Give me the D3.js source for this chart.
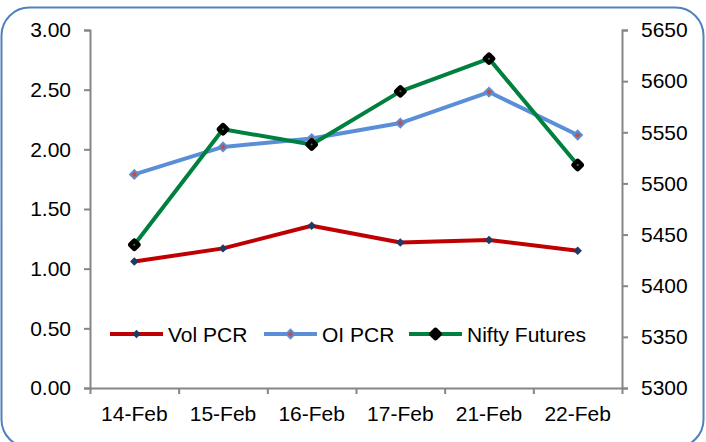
<!DOCTYPE html>
<html>
<head>
<meta charset="utf-8">
<script src="https://cdn.jsdelivr.net/npm/d3@7"></script>
<style>
  body { margin: 0; background: #fff; }
  svg { display: block; font-family: "Liberation Sans", Arial, sans-serif; }
  .axis path, .axis line { stroke: #868686; stroke-width: 2; }
  .axis text { font-size: 21px; fill: #000; }
</style>
</head>
<body>
<div id="vis"></div>
<script>
const FRAME_WIDTH = 706;
const FRAME_HEIGHT = 442;
const MARGINS = {left: 90, right: 84, top: 30, bottom: 54};
const VIS_WIDTH = FRAME_WIDTH - MARGINS.left - MARGINS.right;
const VIS_HEIGHT = FRAME_HEIGHT - MARGINS.top - MARGINS.bottom;

// data
const dates = ["14-Feb", "15-Feb", "16-Feb", "17-Feb", "21-Feb", "22-Feb"];
const volPcr = [1.06, 1.17, 1.36, 1.22, 1.24, 1.15];
const oiPcr = [1.79, 2.02, 2.09, 2.22, 2.48, 2.12];
const niftyFut = [5440, 5553, 5538, 5590, 5622, 5518];
const leftTicks = [0, 0.5, 1, 1.5, 2, 2.5, 3];
const rightTicks = [5300, 5350, 5400, 5450, 5500, 5550, 5600, 5650];

const FRAME = d3.select("#vis")
  .append("svg")
    .attr("width", FRAME_WIDTH)
    .attr("height", FRAME_HEIGHT);

// rounded chart border
FRAME.append("rect")
  .attr("x", 1.5).attr("y", 7.5)
  .attr("width", 702).attr("height", 440)
  .attr("rx", 28).attr("ry", 28)
  .attr("fill", "none")
  .attr("stroke", "#4F81BD")
  .attr("stroke-width", 2);

const G = FRAME.append("g")
  .attr("transform", "translate(" + MARGINS.left + "," + MARGINS.top + ")");

const X_SCALE = d3.scaleBand().domain(dates).range([0, VIS_WIDTH]);
const X_EDGES = d3.scaleLinear().domain([0, dates.length]).range([0, VIS_WIDTH]);
const Y_LEFT = d3.scaleLinear().domain([0, 3]).range([VIS_HEIGHT, 0]);
const Y_RIGHT = d3.scaleLinear().domain([5300, 5650]).range([VIS_HEIGHT, 0]);
const xc = (i) => X_SCALE(dates[i]) + X_SCALE.bandwidth() / 2;

// axes
G.append("g").attr("class", "axis")
  .call(d3.axisLeft(Y_LEFT).tickValues(leftTicks).tickSize(6).tickPadding(13)
    .tickFormat(d3.format(".2f")));

G.append("g").attr("class", "axis")
  .attr("transform", "translate(" + VIS_WIDTH + ",0)")
  .call(d3.axisRight(Y_RIGHT).tickValues(rightTicks).tickSize(6).tickPadding(13)
    .tickFormat(d3.format("d")));

G.append("g").attr("class", "axis")
  .attr("transform", "translate(0," + VIS_HEIGHT + ")")
  .call(d3.axisBottom(X_EDGES).tickValues(d3.range(dates.length + 1))
    .tickSize(6).tickSizeOuter(0).tickFormat(""));

G.append("g").attr("class", "axis")
  .attr("transform", "translate(0," + VIS_HEIGHT + ")")
  .call(d3.axisBottom(X_SCALE).tickSize(0).tickPadding(18))
  .call(g => g.select(".domain").remove());

// series
const series = [
  {name: "Vol PCR", values: volPcr, y: Y_LEFT, color: "#C00000",
   mSize: 5, mFill: "#1F3B64", mStroke: "#1F3B64", mStrokeW: 1},
  {name: "OI PCR", values: oiPcr, y: Y_LEFT, color: "#5A8FD8",
   mSize: 6, mFill: "#C0504D", mStroke: "#5A8FD8", mStrokeW: 2},
  {name: "Nifty Futures", values: niftyFut, y: Y_RIGHT, color: "#00803E",
   mSize: 8, mFill: "#000", mStroke: "#000", mStrokeW: 2.5}
];

const line = (s) => d3.line()
  .x((d, i) => xc(i))
  .y((d) => s.y(d));

const marker = (sel, s) => sel
  .attr("width", s.mSize).attr("height", s.mSize)
  .attr("x", -s.mSize / 2).attr("y", -s.mSize / 2)
  .attr("rx", s.name === "Nifty Futures" ? 1.5 : 0)
  .attr("fill", s.mFill)
  .attr("stroke", s.mStroke)
  .attr("stroke-width", s.mStrokeW);

series.forEach((s) => {
  G.append("path")
    .datum(s.values)
    .attr("d", line(s))
    .attr("fill", "none")
    .attr("stroke", s.color)
    .attr("stroke-width", 4)
    .attr("stroke-linejoin", "round");

  G.selectAll(".m-" + s.name.replace(/ /g, ""))
    .data(s.values)
    .enter()
    .append("rect")
      .attr("transform", (d, i) => "translate(" + xc(i) + "," + s.y(d) + ") rotate(45)")
      .call(marker, s);

  if (s.name === "Nifty Futures") {
    G.selectAll(".dot")
      .data(s.values)
      .enter()
      .append("circle")
        .attr("cx", (d, i) => xc(i))
        .attr("cy", (d) => s.y(d))
        .attr("r", 1)
        .attr("fill", "#3C8C3C");
  }
});

// legend
const legendX = [110, 264, 409];
const LEG = FRAME.append("g").attr("transform", "translate(0,334)");
series.forEach((s, i) => {
  const g = LEG.append("g").attr("transform", "translate(" + legendX[i] + ",0)");
  g.append("line")
    .attr("x1", 0).attr("x2", 53)
    .attr("stroke", s.color).attr("stroke-width", 4);
  g.append("rect")
    .attr("transform", "translate(26.5,0) rotate(45)")
    .call(marker, s);
  g.append("text")
    .attr("x", 58).attr("y", 7.5)
    .attr("font-size", 21)
    .text(s.name);
});
</script>
</body>
</html>
